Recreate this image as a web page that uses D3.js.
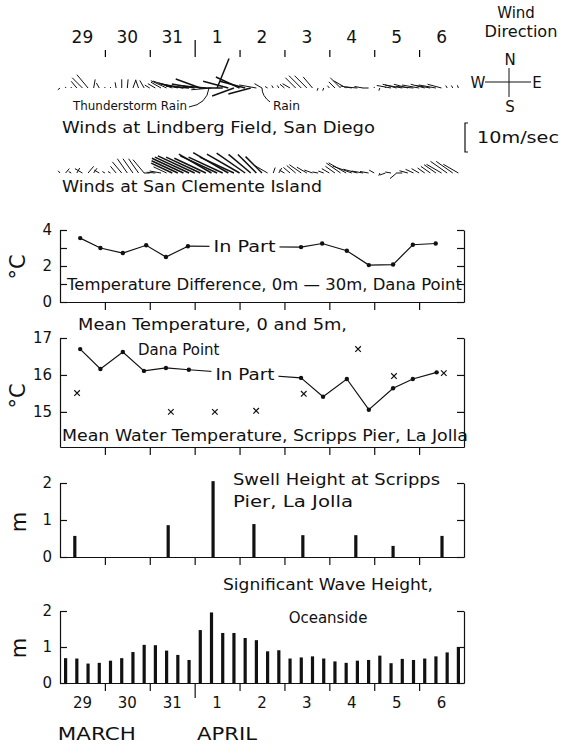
<!DOCTYPE html>
<html>
<head>
<meta charset="utf-8">
<script src="https://cdn.jsdelivr.net/npm/d3@7"></script>
<style>
  body { margin: 0; background: #fff; }
  svg { display: block; font-family: "DejaVu Sans", sans-serif; }
  text { fill: #111; }
</style>
</head>
<body>
<div id="chart"></div>
<script>
// Day labels along the time axis (29 March .. 6 April)
const dayLabels = ["29", "30", "31", "1", "2", "3", "4", "5", "6"];
const monthLabels = ["MARCH", "APRIL"];
const monthAt = [0.82, 3.72];          // day position of the month names

// Wind sticks, 3-hourly from 29 March 00h: speed (m/s) and direction (deg, 0 = N)
const lindbergSpeed = [
  1, 0, 0, 3, 5, 6, 3, 2,
  0, 0, 2, 3, 3, 3, 3, 3,
  2, 3, 4, 6, 7, 7, 8, 8,
  8, 9, 8, 7, 11, 8, 9, 8,
  9, 9, 8, 6, 3, 1, 1, 1,
  2, 3, 5, 6, 6, 5, 1, 1,
  1, 3, 5, 5, 4, 4, 3, 2,
  0, 1, 0, 5, 5, 6, 5, 6,
  6, 5, 5, 6, 5, 1, 1, 1
];
const lindbergDir = [
  230, 0, 0, 320, 315, 320, 10, 330,
  0, 0, 350, 0, 5, 20, 340, 330,
  300, 300, 300, 295, 290, 285, 280, 275,
  280, 290, 275, 265, 22, 270, 285, 250,
  295, 285, 255, 280, 300, 300, 330, 330,
  310, 300, 315, 315, 315, 320, 200, 200,
  320, 315, 315, 300, 280, 275, 280, 270,
  0, 200, 0, 280, 285, 280, 285, 275,
  280, 285, 280, 280, 285, 330, 330, 340
];
const clementeSpeed = [
  1, 2, 1, 2, 3, 3, 2, 2,
  1, 1, 3, 5, 6, 6, 6, 6,
  2, 3, 4, 5, 8, 10, 12, 13,
  14, 13, 12, 13, 14, 13, 14, 13,
  13, 12, 10, 9, 8, 5, 2, 2,
  2, 3, 4, 5, 4, 3, 2, 2,
  3, 4, 6, 7, 7, 5, 4, 3,
  2, 1, 2, 2, 3, 2, 3, 3,
  3, 3, 4, 5, 6, 7, 7, 6
];
const clementeDir = [
  320, 40, 300, 30, 300, 40, 35, 300,
  300, 300, 320, 320, 325, 325, 325, 320,
  270, 275, 280, 295, 295, 295, 295, 295,
  295, 295, 295, 300, 295, 295, 300, 295,
  300, 305, 310, 315, 315, 300, 20, 30,
  300, 310, 310, 305, 300, 290, 280, 290,
  300, 305, 305, 300, 290, 285, 280, 280,
  300, 200, 250, 280, 230, 270, 285, 295,
  300, 305, 305, 305, 300, 305, 305, 300
];
const rainEvents = [
  { label: "Thunderstorm Rain", at: 3.32 },
  { label: "Rain", at: 4.5 }
];

// Temperature difference 0m - 30m, Dana Point (day, degC)
const diffDay1 = [0.45, 0.9, 1.4, 1.92, 2.36, 2.85];
const diffVal1 = [3.55, 3.0, 2.72, 3.15, 2.5, 3.1];
const diffDay2 = [5.37, 5.84, 6.39, 6.88, 7.42, 7.86, 8.37];
const diffVal2 = [3.05, 3.25, 2.85, 2.05, 2.08, 3.18, 3.25];

// Mean temperature 0 and 5m, Dana Point
const meanDay1 = [0.45, 0.9, 1.4, 1.87, 2.36, 2.87];
const meanVal1 = [16.7, 16.16, 16.62, 16.11, 16.19, 16.14];
const meanDay2 = [5.37, 5.86, 6.39, 6.88, 7.42, 7.86, 8.39];
const meanVal2 = [15.92, 15.41, 15.89, 15.06, 15.64, 15.89, 16.07];

// Mean water temperature, Scripps Pier (crosses)
const pierDay = [0.38, 2.47, 3.45, 4.37, 5.43, 6.64, 7.44, 8.55];
const pierVal = [15.51, 15.0, 15.0, 15.03, 15.49, 16.7, 15.97, 16.05];

// Swell height at Scripps Pier (m)
const swellDay = [0.33, 2.41, 3.41, 4.32, 5.41, 6.59, 7.42, 8.51];
const swellVal = [0.57, 0.86, 2.05, 0.89, 0.59, 0.59, 0.3, 0.57];

// Significant wave height, Oceanside, 6-hourly from 29 March 03h (m)
const waveVal = [
  0.69, 0.68, 0.54, 0.56, 0.62, 0.69, 0.86, 1.06,
  1.05, 0.9, 0.78, 0.64, 1.47, 1.96, 1.39, 1.39,
  1.25, 1.19, 0.88, 0.91, 0.68, 0.71, 0.74, 0.68,
  0.6, 0.56, 0.62, 0.64, 0.76, 0.55, 0.67, 0.64,
  0.68, 0.74, 0.85, 1.0
];

const width = 561, height = 746;
const svg = d3.select("#chart").append("svg")
  .attr("width", width).attr("height", height);

const x = d3.scaleLinear().domain([0, 9]).range([60, 464]);
const speed = d3.scaleLinear().domain([0, 10]).range([0, 29]);

function label(txt, lx, ly, size, len, anchor) {
  const t = svg.append("text")
    .attr("x", lx).attr("y", ly)
    .attr("font-size", size)
    .attr("text-anchor", anchor || "start")
    .text(txt);
  if (len) t.attr("textLength", len).attr("lengthAdjust", "spacingAndGlyphs");
  return t;
}

// ---- top time axis
const topAxis = svg.append("g")
  .attr("transform", "translate(0,57)")
  .call(d3.axisTop(x).tickValues(d3.range(1, 9)).tickSize(7).tickFormat(""));
topAxis.select(".domain").remove();
topAxis.selectAll(".tick line").attr("stroke-width", 1.2)
  .filter(d => d === 3).attr("y2", -17);
dayLabels.forEach((d, i) => label(d, x(i + 0.5), 43, 17, null, "middle"));

// ---- wind sticks
function drawSticks(sp, dir, base) {
  const g = svg.append("g");
  sp.forEach((s, i) => {
    const x0 = x(i * 3 / 24);
    const r = speed(Math.max(s, 0.35));
    const a = dir[i] * Math.PI / 180;
    g.append("line")
      .attr("x1", x0).attr("y1", base)
      .attr("x2", x0 + r * Math.sin(a)).attr("y2", base - r * Math.cos(a))
      .attr("stroke", "#111")
      .attr("stroke-width", s >= 8 ? 1.5 : 1);
  });
}
drawSticks(lindbergSpeed, lindbergDir, 88);
drawSticks(clementeSpeed, clementeDir, 173);

// rain annotations
label(rainEvents[0].label, 73, 110, 11.5, 114);
svg.append("path")
  .attr("d", `M189,107 Q${x(rainEvents[0].at) - 2},104 ${x(rainEvents[0].at)},88`)
  .attr("fill", "none").attr("stroke", "#111").attr("stroke-width", 1);
label(rainEvents[1].label, 273, 110, 11.5, 27);
svg.append("path")
  .attr("d", `M${x(rainEvents[1].at) + 8},102 Q${x(rainEvents[1].at)},96 ${x(rainEvents[1].at)},88`)
  .attr("fill", "none").attr("stroke", "#111").attr("stroke-width", 1);

label("Winds at Lindberg Field, San Diego", 62, 133, 15, 313);
label("Winds at San Clemente Island", 62, 192, 15, 260);

// wind direction key
label("Wind", 516, 18, 15, null, "middle");
label("Direction", 521, 37, 15, 73, "middle");
label("N", 510, 65, 15, null, "middle");
label("S", 510, 112, 15, null, "middle");
label("W", 478, 88, 15, null, "middle");
label("E", 537, 88, 15, null, "middle");
svg.append("line").attr("x1", 485).attr("x2", 531).attr("y1", 82).attr("y2", 82)
  .attr("stroke", "#111").attr("stroke-width", 1);
svg.append("line").attr("x1", 509).attr("x2", 509).attr("y1", 68).attr("y2", 97)
  .attr("stroke", "#111").attr("stroke-width", 1);

// speed scale bracket
const sTop = 123;
svg.append("path")
  .attr("d", `M468,${sTop} H465 V${sTop + speed(10)} H468`)
  .attr("fill", "none").attr("stroke", "#111").attr("stroke-width", 1.2);
label("10m/sec", 477, 143, 15, 82);

// ---- framed panels
function panel(cfg) {
  const y = d3.scaleLinear().domain(cfg.domain).range(cfg.range);
  const g = svg.append("g");
  const fmt = d => cfg.labels.includes(d) ? d : "";
  const left = g.append("g").attr("transform", `translate(${x(0)},0)`)
    .call(d3.axisLeft(y).tickValues(cfg.ticks).tickSize(-7).tickSizeOuter(0)
      .tickPadding(8).tickFormat(fmt));
  const right = g.append("g").attr("transform", `translate(${x(9)},0)`)
    .call(d3.axisRight(y).tickValues(cfg.ticks).tickSize(-7).tickSizeOuter(0)
      .tickFormat(""));
  const bottom = g.append("g").attr("transform", `translate(0,${cfg.range[0]})`)
    .call(d3.axisBottom(x).tickValues(d3.range(1, 9)).tickSize(8)
      .tickSizeOuter(0).tickFormat(""));
  [left, right, bottom].forEach(a => {
    a.selectAll("path, line").attr("stroke", "#111").attr("stroke-width", 1.2);
    a.selectAll("text").attr("font-size", 15).attr("font-family", "DejaVu Sans")
      .attr("fill", "#111");
  });
  svg.append("text")
    .attr("transform", `translate(${cfg.titleX},${cfg.titleY}) rotate(-90)`)
    .attr("text-anchor", "middle").attr("font-size", 21)
    .text(cfg.unit);
  return { y, g, bottom };
}

function series(p, days, vals) {
  const line = d3.line().x(d => x(d[0])).y(d => p.y(d[1]));
  const pts = days.map((d, i) => [d, vals[i]]);
  p.g.append("path").datum(pts).attr("d", line)
    .attr("fill", "none").attr("stroke", "#111").attr("stroke-width", 1.2);
  p.g.selectAll(null).data(pts).join("circle")
    .attr("cx", d => x(d[0])).attr("cy", d => p.y(d[1])).attr("r", 2.2)
    .attr("fill", "#111");
  return pts;
}

function inPart(p, a, b, dy, len) {
  p.g.append("line")
    .attr("x1", x(a[0])).attr("y1", p.y(a[1]))
    .attr("x2", x(b[0])).attr("y2", p.y(b[1]))
    .attr("stroke", "#111").attr("stroke-width", 1.2);
  const cx = (x(a[0]) + x(b[0])) / 2, cy = (p.y(a[1]) + p.y(b[1])) / 2;
  p.g.append("rect").attr("x", cx - len / 2 - 4).attr("y", cy - 9)
    .attr("width", len + 8).attr("height", 16).attr("fill", "#fff");
  p.g.append("text").attr("x", cx).attr("y", cy + dy)
    .attr("text-anchor", "middle").attr("font-size", 15)
    .attr("textLength", len).attr("lengthAdjust", "spacingAndGlyphs")
    .text("In Part");
}

// Temperature difference
const p1 = panel({ domain: [0, 4], range: [302, 230], ticks: [0, 1, 2, 3, 4],
  labels: [0, 2, 4], unit: "°C", titleX: 25, titleY: 267 });
const d1 = series(p1, diffDay1, diffVal1);
const d2 = series(p1, diffDay2, diffVal2);
inPart(p1, d1[d1.length - 1], d2[0], 5, 62);
label("Temperature Difference, 0m \u2014 30m, Dana Point", 67, 290, 15, 395);

// Mean temperature
const p2 = panel({ domain: [14.05, 17], range: [447, 338], ticks: [15, 16, 17],
  labels: [15, 16, 17], unit: "°C", titleX: 25, titleY: 396 });
const m1 = series(p2, meanDay1, meanVal1);
const m2 = series(p2, meanDay2, meanVal2);
inPart(p2, m1[m1.length - 1], m2[0], 6, 59);
p2.g.selectAll(null).data(pierDay).join("path")
  .attr("transform", (d, i) => `translate(${x(d)},${p2.y(pierVal[i])})`)
  .attr("d", d3.symbol(d3.symbolX, 22))
  .attr("fill", "none").attr("stroke", "#111").attr("stroke-width", 1.2);
label("Mean Temperature, 0 and 5m,", 78, 330, 15, 269);
label("Dana Point", 138, 355, 15);
label("Mean Water Temperature, Scripps Pier, La Jolla", 62, 441, 15, 406);

// Swell height
const p3 = panel({ domain: [0, 2], range: [557, 483], ticks: [0, 1, 2],
  labels: [0, 1, 2], unit: "m", titleX: 26, titleY: 522 });
p3.g.selectAll(null).data(swellDay).join("line")
  .attr("x1", d => x(d)).attr("x2", d => x(d))
  .attr("y1", p3.y(0)).attr("y2", (d, i) => p3.y(swellVal[i]))
  .attr("stroke", "#111").attr("stroke-width", 3.2);
label("Swell Height at Scripps", 233, 485, 15, 207);
label("Pier, La Jolla", 233, 507, 15, 120);

// Significant wave height
const p4 = panel({ domain: [0, 2], range: [683, 611], ticks: [0, 1, 2],
  labels: [0, 1, 2], unit: "m", titleX: 26, titleY: 648 });
p4.bottom.selectAll(".tick line").filter(d => d === 3).attr("y2", 15);
p4.g.selectAll(null).data(waveVal).join("line")
  .attr("x1", (d, i) => x(0.125 + i * 0.25)).attr("x2", (d, i) => x(0.125 + i * 0.25))
  .attr("y1", p4.y(0)).attr("y2", d => p4.y(d))
  .attr("stroke", "#111").attr("stroke-width", 3.2);
label("Significant Wave Height,", 223, 590, 15, 210);
label("Oceanside", 328, 623, 15, null, "middle");

// bottom day and month labels
dayLabels.forEach((d, i) => label(d, x(i + 0.5), 708, 15, null, "middle"));
monthLabels.forEach((m, i) => label(m, x(monthAt[i]), 740, 18, m === "MARCH" ? 78 : 60, "middle"));
</script>
</body>
</html>
